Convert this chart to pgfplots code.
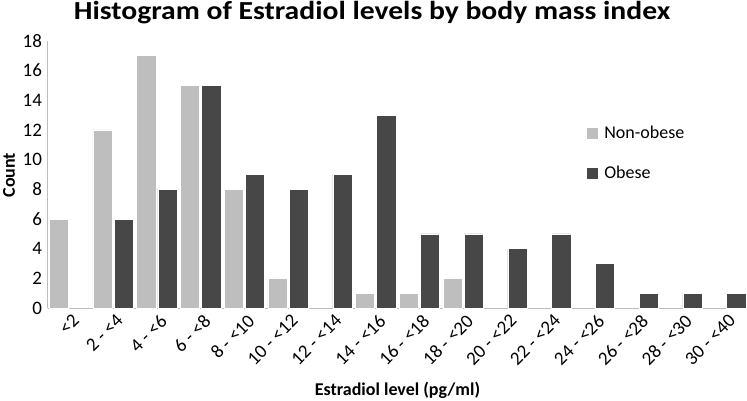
\documentclass[border=0pt]{standalone}
\usepackage{pgfplots}
\pgfplotsset{compat=1.18}
\usepackage{fontspec}
\setmainfont{Carlito}
\newfontfamily\titlefont[FakeStretch=1.14]{Carlito}
\definecolor{nonob}{HTML}{BEBEBE}
\definecolor{ob}{HTML}{474747}
\definecolor{axisgray}{HTML}{BDBDBD}
\begin{document}
\begin{tikzpicture}
\path[use as bounding box] (-47.5bp,-92.8bp) rectangle (699.5bp,308.2bp);
\begin{axis}[
  scale only axis,
  width=700bp, height=267.5bp,
  xmin=-0.5, xmax=15.5, ymin=0, ymax=18,
  ytick={0,2,...,18},
  xtick={0,...,15},
  xticklabels={<2, 2 - <4, 4 - <6, 6 - <8, 8 - <10, 10 - <12, 12 - <14, 14 - <16, 16 - <18, 18 - <20, 20 - <22, 22 - <24, 24 - <26, 26 - <28, 28 - <30, 30 - <40},
  axis x line*=bottom, axis y line*=left,
  axis line style={axisgray, line width=1bp},
  major tick length=0pt,
  tick style={draw=none},
  /pgf/number format/assume math mode=true,
  xticklabel style={font=\fontsize{19bp}{22bp}\selectfont, rotate=45, anchor=north east, inner sep=0pt, xshift=-2bp, yshift=-5bp},
  yticklabel style={font=\fontsize{19bp}{22bp}\selectfont, xshift=-2bp},
  ybar=2bp, bar width=19.3bp,
  legend style={at={(0.770,0.688)}, anchor=north west, draw=none, fill=none,
    font=\fontsize{18bp}{21bp}\selectfont, row sep=21.5bp, inner sep=0pt,
    cells={anchor=west}},
]
\addplot[fill=nonob, draw=white, line width=0.6bp,
  legend image code/.code={\fill[nonob] (0bp,-5bp) rectangle (10bp,5bp);}]
  coordinates {(0,6) (1,12) (2,17) (3,15) (4,8) (5,2) (7,1) (8,1) (9,2)};
\addlegendentry{\hspace{5bp}Non-obese}
\addplot[fill=ob, draw=white, line width=0.6bp,
  legend image code/.code={\fill[ob] (0bp,-5bp) rectangle (10bp,5bp);}]
  coordinates {(1,6) (2,8) (3,15) (4,9) (5,8) (6,9) (7,13) (8,5) (9,5) (10,4) (11,5) (12,3) (13,1) (14,1) (15,1)};
\addlegendentry{\hspace{5bp}Obese}
\end{axis}
\node[anchor=base, font=\fontsize{26bp}{30bp}\titlefont\bfseries] at (324.5bp,288.5bp) {Histogram of Estradiol levels by body mass index};
\node[anchor=base, font=\fontsize{18bp}{21bp}\selectfont\bfseries] at (350bp,-86.8bp) {Estradiol level (pg/ml)};
\node[rotate=90, font=\fontsize{18bp}{21bp}\selectfont\bfseries] at (-38.5bp,133bp) {Count};
\end{tikzpicture}
\end{document}
